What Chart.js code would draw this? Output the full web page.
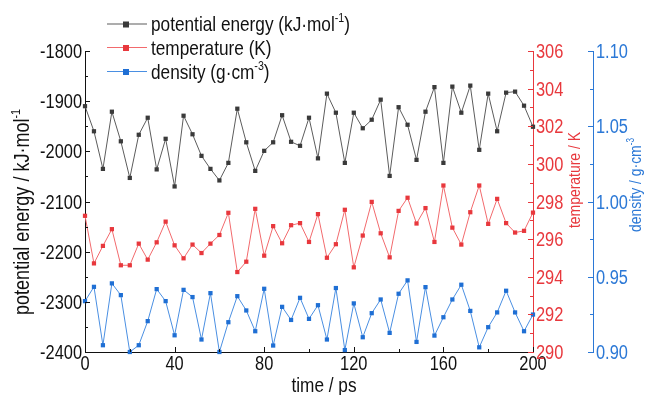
<!DOCTYPE html>
<html>
<head>
<meta charset="utf-8">
<script src="https://cdn.jsdelivr.net/npm/chart.js@4"></script>
<style>
  html, body { margin: 0; padding: 0; background: #fff; }
  canvas { display: block; }
</style>
</head>
<body>
<canvas id="chart" width="648" height="395"></canvas>
<script>
// ── Data ──────────────────────────────────────────────────────────────────────
const TIME = [
  0, 4, 8, 12, 16, 20, 24, 28, 32, 36, 40, 44, 48, 52, 56, 60, 64, 68, 72, 76,
  80, 84, 88, 92, 96, 100, 104, 108, 112, 116, 120, 124, 128, 132, 136, 140,
  144, 148, 152, 156, 160, 164, 168, 172, 176, 180, 184, 188, 192, 196, 200,
]
const ENERGY = [
  -1910, -1960, -2035, -1921, -1980, -2053, -1967, -1933, -2036, -1975,
  -2070, -1929, -1966, -2009, -2035, -2058, -2023, -1915, -1982, -2039,
  -1999, -1982, -1928, -1981, -1989, -1933, -2014, -1885, -1923, -2023,
  -1923, -1954, -1937, -1897, -2049, -1912, -1947, -2017, -1921, -1872,
  -2023, -1871, -1923, -1869, -1997, -1885, -1960, -1883, -1881, -1909,
  -1951,
]
const TEMPERATURE = [
  297.24, 294.71, 295.64, 296.53, 294.61, 294.61, 295.76, 294.91, 295.83, 296.93,
  295.67, 294.98, 295.71, 295.26, 295.76, 296.22, 297.40, 294.25, 294.80, 297.61,
  295.12, 296.69, 295.78, 296.74, 296.85, 295.85, 297.33, 295.01, 295.73, 297.56,
  294.50, 296.19, 297.98, 296.31, 295.03, 297.50, 298.20, 296.83, 297.65, 295.85,
  298.85, 296.61, 295.71, 297.43, 298.85, 296.81, 298.14, 296.85, 296.35, 296.44,
  297.41,
]
const DENSITY = [
  0.9338, 0.9433, 0.9045, 0.9456, 0.9378, 0.9000, 0.9045, 0.9205, 0.9418, 0.9338,
  0.9111, 0.9413, 0.9365, 0.9083, 0.9391, 0.9000, 0.9198, 0.9371, 0.9276, 0.9138,
  0.9420, 0.9043, 0.9300, 0.9213, 0.9360, 0.9220, 0.9311, 0.9083, 0.9425, 0.9013,
  0.9323, 0.9098, 0.9258, 0.9349, 0.9127, 0.9387, 0.9476, 0.9067, 0.9431, 0.9109,
  0.9231, 0.9349, 0.9447, 0.9273, 0.9031, 0.9165, 0.9263, 0.9407, 0.9263, 0.9138,
  0.9249,
]

// ── Style ─────────────────────────────────────────────────────────────────────
const FONT   = "'Liberation Sans', Arial, sans-serif"
const NARROW = 0.82          // the original uses a condensed face
const BLACK  = '#111111'
const RED    = '#e8383d'
const BLUE   = '#2b78d6'
const MINOR  = { x: 20, y: 50, y1: 1, y2: 0.025 }

// ── Rich text (condensed, with superscripts) ──────────────────────────────────
function partsWidth(ctx, parts, size) {
  let w = 0
  for (const [t, sup] of parts) {
    ctx.font = `${sup ? Math.round(size * 0.6) : size}px ${FONT}`
    w += ctx.measureText(t).width
  }
  return w * NARROW
}

// draws at current transform origin, text starting at x, baseline y
function drawRich(ctx, parts, x, y, size) {
  ctx.save()
  ctx.translate(x, y)
  ctx.scale(NARROW, 1)
  ctx.textBaseline = 'alphabetic'
  ctx.textAlign = 'left'
  let cx = 0
  for (const [t, sup] of parts) {
    ctx.font = `${sup ? Math.round(size * 0.6) : size}px ${FONT}`
    ctx.fillText(t, cx, sup ? -size * 0.42 : 0)
    cx += ctx.measureText(t).width
  }
  ctx.restore()
}

function drawLabel(ctx, text, x, y, size, align) {
  const parts = [[text]]
  const w = partsWidth(ctx, parts, size)
  const x0 = align === 'right' ? x - w : align === 'center' ? x - w / 2 : x
  drawRich(ctx, parts, x0, y, size)
}

// ── Titles & legend text ──────────────────────────────────────────────────────
const TITLES = [
  { parts: [['potential energy / kJ·mol'], ['-1', true]], color: BLACK, size: 22, x: 29,  y: 212, rot: true },
  { parts: [['temperature / K']],                         color: RED,   size: 17, x: 580, y: 180, rot: true },
  { parts: [['density / g·cm'], ['-3', true]],            color: BLUE,  size: 17, x: 641, y: 185, rot: true },
  { parts: [['time / ps']],                               color: BLACK, size: 21, x: 324, y: 392, rot: false },
]
const LEGEND = [
  { parts: [['potential energy (kJ·mol'], ['-1', true], [')']], line: '#5c5c5c', point: '#3a3a3a' },
  { parts: [['temperature (K)']],                              line: '#f26a6d', point: '#e8383d' },
  { parts: [['density (g·cm'], ['-3', true], [')']],           line: '#4a8fe2', point: '#1f6fd4' },
]

// ── Plugins ───────────────────────────────────────────────────────────────────
const inwardTicks = {
  id: 'inwardTicks',
  afterDatasetsDraw(chart) {
    const ctx = chart.ctx
    for (const id of Object.keys(MINOR)) {
      const s     = chart.scales[id]
      const step  = MINOR[id]
      const major = s.options.ticks.stepSize
      const n     = Math.round((s.max - s.min) / step)
      ctx.save()
      ctx.strokeStyle = s.options.border.color
      ctx.lineWidth = 1
      ctx.beginPath()
      for (let k = 0; k <= n; k++) {
        const v   = s.min + k * step
        const r   = v / major
        const len = Math.abs(r - Math.round(r)) < 1e-6 ? 5 : 3
        const p   = Math.round(s.getPixelForValue(v)) + 0.5
        if (s.isHorizontal()) {
          ctx.moveTo(p, s.top); ctx.lineTo(p, s.top - len)
        } else if (s.position === 'left') {
          ctx.moveTo(s.right, p); ctx.lineTo(s.right + len, p)
        } else {
          ctx.moveTo(s.left, p); ctx.lineTo(s.left - len, p)
        }
      }
      ctx.stroke()
      ctx.restore()
    }
  },
}

const textLayer = {
  id: 'textLayer',
  afterDraw(chart) {
    const ctx = chart.ctx
    ctx.save()

    // tick labels
    for (const id of Object.keys(MINOR)) {
      const s = chart.scales[id]
      ctx.fillStyle = s.options.ticks.color
      for (const t of s.ticks) {
        const p   = s.getPixelForValue(t.value)
        const txt = id === 'y2' ? t.value.toFixed(2) : String(Math.round(t.value))
        if (s.isHorizontal())          drawLabel(ctx, txt, p, s.top + 18, 20, 'center')
        else if (s.position === 'left') drawLabel(ctx, txt, s.right - 3, p + 7, 20, 'right')
        else                            drawLabel(ctx, txt, s.left + 3, p + 7, 20, 'left')
      }
    }

    // axis titles
    for (const t of TITLES) {
      ctx.fillStyle = t.color
      const w = partsWidth(ctx, t.parts, t.size)
      if (t.rot) {
        ctx.save()
        ctx.translate(t.x, t.y)
        ctx.rotate(-Math.PI / 2)
        drawRich(ctx, t.parts, -w / 2, 0, t.size)
        ctx.restore()
      } else {
        drawRich(ctx, t.parts, t.x - w / 2, t.y, t.size)
      }
    }

    // legend
    LEGEND.forEach((item, i) => {
      const y = [24, 47.5, 71.5][i]
      ctx.strokeStyle = item.line
      ctx.lineWidth = 1.2
      ctx.beginPath(); ctx.moveTo(107, y); ctx.lineTo(147, y); ctx.stroke()
      ctx.fillStyle = item.point
      ctx.fillRect(123, y - 2.5, 6, 6)
      ctx.fillStyle = BLACK
      drawRich(ctx, item.parts, 151, y + 7, 21)
    })
    ctx.restore()
  },
}

// ── Scale helpers ─────────────────────────────────────────────────────────────
function yScale(position, min, max, step, color, width) {
  return {
    type: 'linear', position, min, max,
    afterFit: s => { s.width = width },
    grid:   { display: false, drawTicks: false },
    border: { display: true, color, width: 1 },
    ticks:  { stepSize: step, color, display: false },
  }
}

function series(label, data, axis, line, point) {
  return {
    label, yAxisID: axis,
    data: TIME.map((t, i) => ({ x: t, y: data[i] })),
    borderColor: line, borderWidth: 1,
    pointStyle: 'rect', pointRadius: 3, pointHoverRadius: 3,
    pointBackgroundColor: point, pointBorderColor: point, pointBorderWidth: 0,
    tension: 0, clip: false,
  }
}

// ── Chart ─────────────────────────────────────────────────────────────────────
new Chart(document.getElementById('chart'), {
  type: 'line',
  data: {
    datasets: [
      series('potential energy', ENERGY, 'y', '#5c5c5c', '#3a3a3a'),
      series('temperature', TEMPERATURE, 'y1', '#f26a6d', '#e8383d'),
      series('density', DENSITY, 'y2', '#4a8fe2', '#1f6fd4'),
    ],
  },
  options: {
    responsive: false,
    animation: false,
    devicePixelRatio: 1,
    layout: { padding: { top: 51, left: 0, right: 0, bottom: 0 } },
    plugins: { legend: { display: false }, tooltip: { enabled: false } },
    scales: {
      x: {
        type: 'linear', min: 0, max: 200,
        afterFit: s => { s.height = 43 },
        grid:   { display: false, drawTicks: false },
        border: { display: true, color: BLACK, width: 1 },
        ticks:  { stepSize: 40, color: BLACK, display: false },
      },
      y:  yScale('left',  -2400, -1800, 100, BLACK, 85),
      y1: yScale('right', 290, 306, 2, RED, 60),
      y2: yScale('right', 0.9, 1.1, 0.05, BLUE, 55),
    },
  },
  plugins: [inwardTicks, textLayer],
})
</script>
</body>
</html>
